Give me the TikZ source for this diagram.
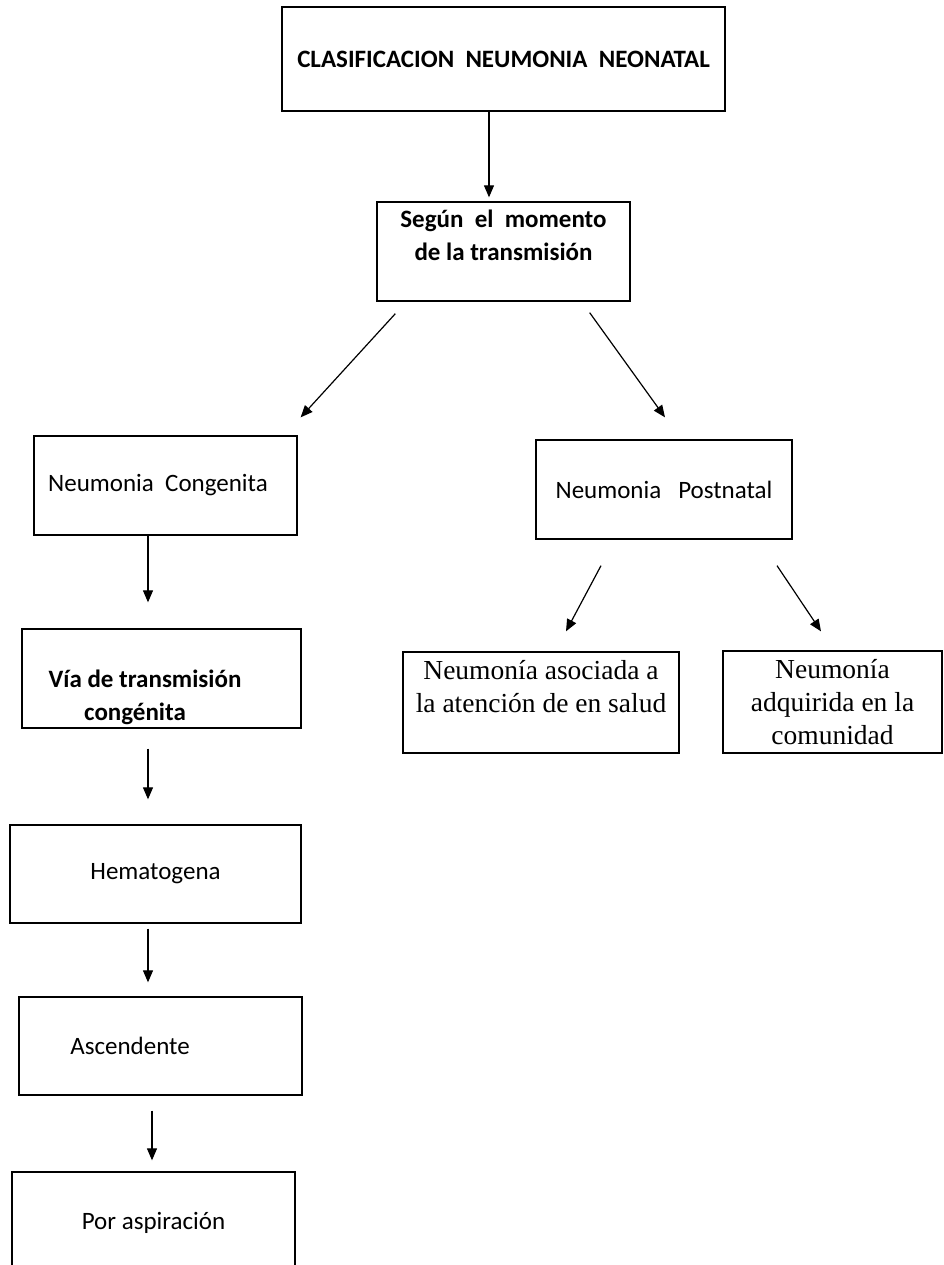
\documentclass[tikz,border=0pt]{standalone}
\usepackage{fontspec}
\setmainfont{Carlito}
\newfontfamily\romana{Liberation Serif}
\usetikzlibrary{arrows.meta,positioning,calc}

\tikzset{
  caja/.style={draw, line width=1.3pt, inner sep=0pt, align=center,
    font=\fontsize{25}{33}\selectfont},
  cajarom/.style={caja, font=\romana\fontsize{27.5}{33}\selectfont},
  flecha/.style={-{Triangle[length=12pt,width=10pt]}, line width=1.2pt},
}

\begin{document}
\begin{tikzpicture}[x=1pt, y=-1pt]
  \useasboundingbox (0,0) rectangle (943,1265);

  % cajas
  \node[caja, font=\fontsize{25}{33}\selectfont\bfseries, minimum width=443pt, minimum height=104pt] (clasif) at (503.5,59) {CLASIFICACION\ \ NEUMONIA\ \ NEONATAL};
  \node[caja, font=\fontsize{25}{33}\selectfont\bfseries, minimum width=253pt, minimum height=99pt] (momento) at (503.5,251.5) {Según\ \ el\ \ momento\\de la transmisión\\\mbox{}};
  \node[caja, minimum width=263pt, minimum height=99pt] (congenita) at (165.5,485.5) {Neumonia\ \ Congenita\hspace*{15pt}};
  \node[caja, minimum width=256pt, minimum height=99pt] (postnatal) at (664,489.5) {Neumonia\ \ \ Postnatal};
  \node[caja, font=\fontsize{25}{33}\selectfont\bfseries, minimum width=279pt, minimum height=99pt] (via) at (161.5,678.5) {\strut\\Vía de transmisión\hspace*{33pt}\mbox{}\\congénita\hspace*{53pt}};
  \node[cajarom, minimum width=276pt, minimum height=101pt] (asociada) at (541,702.5) {Neumonía asociada a\\la atención de en salud\\\mbox{}};
  \node[cajarom, minimum width=219pt, minimum height=102pt] (adquirida) at (832.5,702) {Neumonía\\adquirida en la\\comunidad};
  \node[caja, minimum width=291pt, minimum height=98pt] (hemato) at (155.5,874) {Hematogena};
  \node[caja, minimum width=283pt, minimum height=98pt] (ascen) at (160.5,1046) {Ascendente\hspace*{61pt}};
  \node[caja, minimum width=283pt, minimum height=102pt] (aspira) at (153.5,1223) {Por aspiración};

  % flechas
  \draw[flecha] ($(clasif.south)+(-14.5,0)$) -- ($(momento.north)+(-14.5,-4)$);
  \draw[flecha] ($(momento.south west)+(19,12)$) -- ($(congenita.north east)+(3,-18)$);
  \draw[flecha] ($(momento.south east)+(-41,11)$) -- ($(postnatal.north)+(1,-22)$);
  \draw[flecha] ($(congenita.south)+(-17.5,0)$) -- ($(via.north)+(-13.5,-26)$);
  \draw[flecha] ($(postnatal.south)+(-63,26)$) -- ($(asociada.north)+(25,-20)$);
  \draw[flecha] ($(postnatal.south)+(113,26)$) -- ($(adquirida.north)+(-11.5,-19)$);
  \draw[flecha] ($(via.south)+(-13.5,20)$) -- ($(hemato.north)+(-7.5,-25)$);
  \draw[flecha] ($(hemato.south)+(-7.5,5)$) -- ($(ascen.north)+(-12.5,-14)$);
  \draw[flecha] ($(ascen.south)+(-8.5,15)$) -- ($(aspira.north)+(-1.5,-11)$);
\end{tikzpicture}
\end{document}
